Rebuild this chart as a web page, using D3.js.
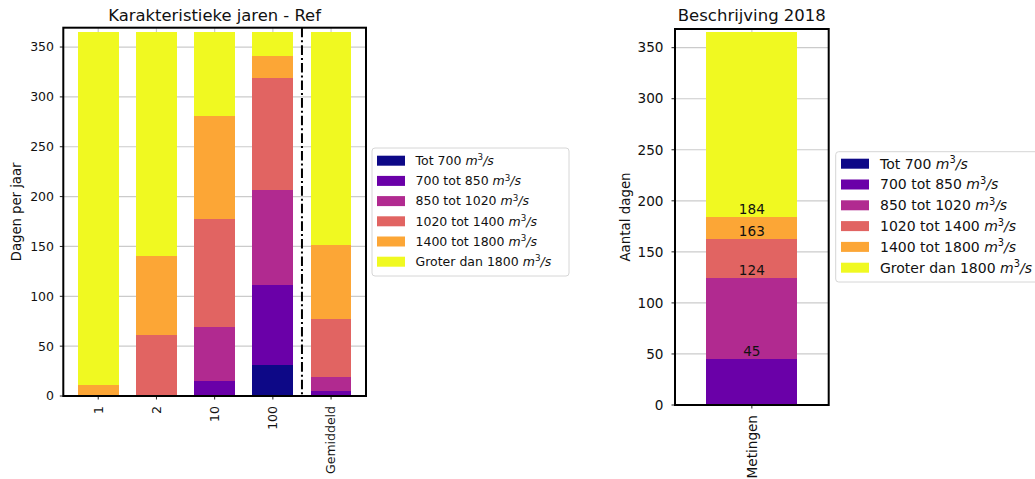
<!DOCTYPE html>
<html><head><meta charset="utf-8">
<script src="https://cdn.jsdelivr.net/npm/d3@7"></script>
<style>body{margin:0;background:#fff}svg{display:block;font-family:"DejaVu Sans",sans-serif}</style>
</head><body><svg id="c" width="1035" height="479"></svg>
<script>
// ---- data ----
const categories = ["1", "2", "10", "100", "Gemiddeld"];
const seriesLabels = ["Tot 700", "700 tot 850", "850 tot 1020", "1020 tot 1400", "1400 tot 1800", "Groter dan 1800"];
const colors = ["#0d0887", "#6a00a8", "#b12a90", "#e16462", "#fca636", "#f0f921"];
const tot700      = [0, 0, 0, 31, 0];
const van700_850  = [0, 0, 15, 80, 5];
const van850_1020 = [0, 0, 54, 96, 14];
const van1020_1400= [0, 61, 109, 112, 58];
const van1400_1800= [11, 79, 103, 22, 74];
const groter1800  = [354, 225, 84, 24, 214];
const metCategories = ["Metingen"];
const metValues = [[0], [45], [79], [39], [21], [181]];
const yTicks = [0, 50, 100, 150, 200, 250, 300, 350];

const leftSeries = [tot700, van700_850, van850_1020, van1020_1400, van1400_1800, groter1800];

const svg = d3.select("#c");
svg.append("rect").attr("width", 1035).attr("height", 479).attr("fill", "#fff");

function buildRows(cats, series) {
  return cats.map((c, i) => {
    const r = {cat: c, idx: i};
    series.forEach((s, k) => r["s" + k] = s[i]);
    return r;
  });
}

function drawPanel(o) {
  const g = svg.append("g");
  const x = d3.scaleLinear().domain(o.xDomain).range([o.left, o.right]);
  const y = d3.scaleLinear().domain([0, o.yMax]).range([o.bottom, o.top]);
  const fs = o.fs;
  // grid
  g.selectAll(".hg").data(o.ticks).join("line")
    .attr("x1", o.left).attr("x2", o.right)
    .attr("y1", d => y(d)).attr("y2", d => y(d))
    .attr("stroke", "#cbcbcb").attr("stroke-width", 1.2);
  g.selectAll(".vg").data(o.cats.map((c, i) => i)).join("line")
    .attr("x1", d => x(d)).attr("x2", d => x(d))
    .attr("y1", o.top).attr("y2", o.bottom)
    .attr("stroke", "#cbcbcb").attr("stroke-width", 1.2);
  // bars
  const keys = o.series.map((s, k) => "s" + k);
  const rows = buildRows(o.cats, o.series);
  const stacked = d3.stack().keys(keys)(rows);
  stacked.forEach((layer, k) => {
    g.append("g").attr("fill", colors[k]).selectAll("rect").data(layer).join("rect")
      .attr("x", d => x(d.data.idx - o.barW / 2))
      .attr("width", x(o.barW) - x(0))
      .attr("y", d => y(d[1]))
      .attr("height", d => y(d[0]) - y(d[1]))
      .attr("shape-rendering", "crispEdges");
  });
  // value labels
  if (o.labels) {
    stacked.slice(0, -1).forEach((layer) => {
      layer.forEach(d => {
        if (d[1] - d[0] > 0) {
          g.append("text").attr("x", x(d.data.idx)).attr("y", y(d[1]) - 3)
            .attr("text-anchor", "middle").attr("font-size", fs).attr("fill", "#111")
            .text(d[1]);
        }
      });
    });
  }
  // separator
  if (o.sep !== undefined) {
    g.append("line").attr("x1", x(o.sep)).attr("x2", x(o.sep))
      .attr("y1", o.top).attr("y2", o.bottom)
      .attr("stroke", "#000").attr("stroke-width", 2)
      .attr("stroke-dasharray", "9.6,3,2,3");
  }
  // y axis ticks
  g.selectAll(".yt").data(o.ticks).join("line")
    .attr("x1", o.left - 3.5).attr("x2", o.left)
    .attr("y1", d => y(d)).attr("y2", d => y(d))
    .attr("stroke", "#222").attr("stroke-width", 1);
  g.selectAll(".ytl").data(o.ticks).join("text")
    .attr("x", o.yLabelX).attr("y", d => y(d)).attr("dy", "0.35em")
    .attr("text-anchor", "end").attr("font-size", fs).attr("fill", "#111")
    .text(d => d);
  // x axis ticks
  g.selectAll(".xt").data(o.cats.map((c, i) => i)).join("line")
    .attr("x1", d => x(d)).attr("x2", d => x(d))
    .attr("y1", o.bottom).attr("y2", o.bottom + 3.5)
    .attr("stroke", "#222").attr("stroke-width", 1);
  g.selectAll(".xtl").data(o.cats).join("text")
    .attr("transform", (d, i) => `translate(${x(i)},${o.bottom + 10}) rotate(-90)`)
    .attr("dy", "0.35em").attr("text-anchor", "end")
    .attr("font-size", fs).attr("fill", "#111").text(d => d);
  // frame
  g.append("rect").attr("x", o.left).attr("y", o.top)
    .attr("width", o.right - o.left).attr("height", o.bottom - o.top)
    .attr("fill", "none").attr("stroke", "#000").attr("stroke-width", 2);
  // title
  g.append("text").attr("x", (o.left + o.right) / 2).attr("y", 21)
    .attr("text-anchor", "middle").attr("font-size", o.titleFs).attr("fill", "#111").text(o.title);
  // y label
  g.append("text").attr("transform", `translate(${o.yTitleX},${(o.top + o.bottom) / 2}) rotate(-90)`)
    .attr("text-anchor", "middle").attr("dy", "0.35em").attr("font-size", o.yTitleFs).attr("fill", "#111").text(o.yTitle);
  // legend
  const L = o.legend;
  g.append("rect").attr("x", L.x).attr("y", L.y).attr("width", L.w).attr("height", L.h)
    .attr("rx", 3).attr("fill", "#fff").attr("stroke", "#d6d6d6").attr("stroke-width", 1);
  seriesLabels.forEach((lab, k) => {
    const cy = L.row0 + k * L.step;
    g.append("rect").attr("x", L.px).attr("y", cy - 5).attr("width", 28).attr("height", 10).attr("fill", colors[k]);
    const t = g.append("text").attr("x", L.tx).attr("y", cy).attr("dy", "0.35em")
      .attr("font-size", L.fs).attr("fill", "#111");
    t.append("tspan").text(lab + " ");
    t.append("tspan").attr("font-style", "italic").text("m");
    t.append("tspan").attr("font-size", L.fs * 0.7).attr("dy", -L.fs * 0.38).text("3");
    t.append("tspan").attr("font-style", "italic").attr("dy", L.fs * 0.38).text("/s");
  });
}

drawPanel({
  cats: categories, series: leftSeries, xDomain: [-0.6, 4.6], barW: 0.7,
  left: 63.3, right: 366, top: 27.7, bottom: 396, yMax: 369.4, ticks: yTicks,
  fs: 12.5, titleFs: 16.4, yTitleFs: 13.2, title: "Karakteristieke jaren - Ref",
  yTitle: "Dagen per jaar", yTitleX: 16, yLabelX: 54, sep: 3.5, labels: false,
  legend: {x: 372, y: 148, w: 197, h: 128, px: 377, tx: 415.5, row0: 160.7, step: 20.2, fs: 12.5}
});

drawPanel({
  cats: metCategories, series: metValues.map(v => v), xDomain: [-0.675, 0.675], barW: 0.8,
  left: 675, right: 828.7, top: 29, bottom: 405, yMax: 368.3, ticks: yTicks,
  fs: 13.6, titleFs: 16.5, yTitleFs: 13.4, title: "Beschrijving 2018",
  yTitle: "Aantal dagen", yTitleX: 625, yLabelX: 663.5, labels: true,
  legend: {x: 835.7, y: 151.7, w: 220, h: 130.3, px: 841, tx: 880, row0: 163.7, step: 20.8, fs: 14}
});
</script></body></html>
